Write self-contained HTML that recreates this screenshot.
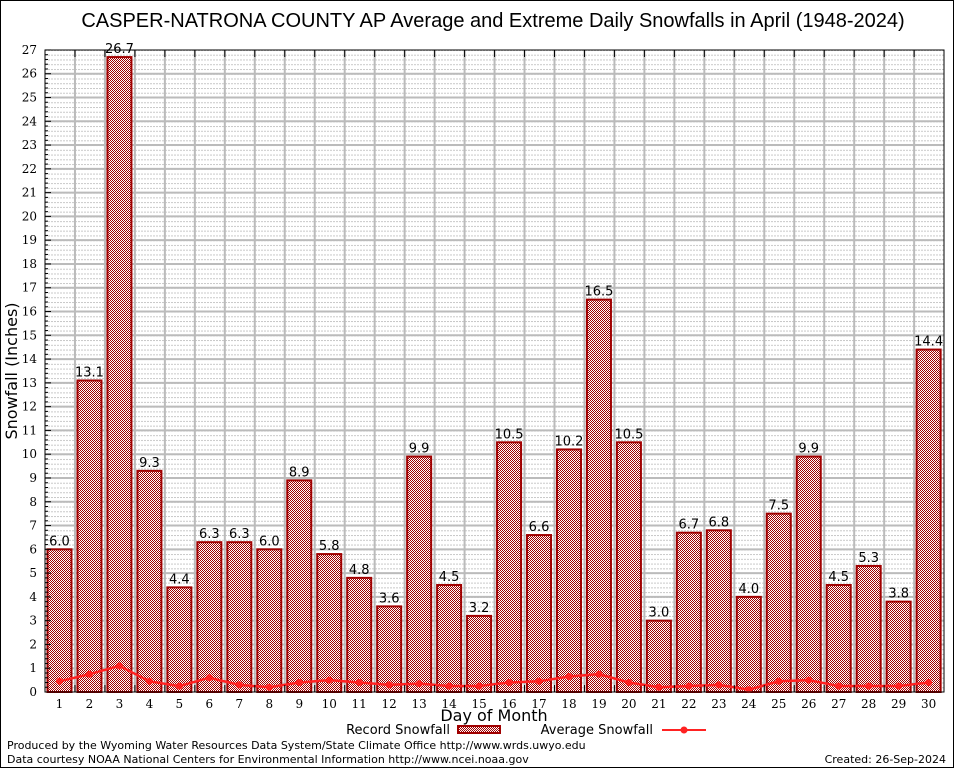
<!DOCTYPE html>
<html><head><meta charset="utf-8"><style>
body{margin:0;background:#fff}
svg text{font-family:"DejaVu Sans","Liberation Sans",sans-serif}
svg text.ser{font-family:"DejaVu Serif","Liberation Serif",serif}
svg text.lib{font-family:"Liberation Sans",sans-serif}
</style></head><body>
<svg width="954" height="768" viewBox="0 0 954 768" xmlns="http://www.w3.org/2000/svg">
<defs>
<pattern id="chk" width="2" height="2" patternUnits="userSpaceOnUse">
<rect width="2" height="2" fill="#fff"/><rect width="1" height="1" fill="#a00000"/><rect x="1" y="1" width="1" height="1" fill="#a00000"/>
</pattern>
<pattern id="dots" x="45" y="692" width="3" height="4.756" patternUnits="userSpaceOnUse">
<rect x="0" y="0" width="2" height="1" fill="#c8c8c8"/>
</pattern>
</defs>
<rect x="0.5" y="0.5" width="953" height="767" fill="#fff" stroke="#000"/>
<text class="lib" x="493" y="27" font-size="20" text-anchor="middle">CASPER-NATRONA COUNTY AP Average and Extreme Daily Snowfalls in April (1948-2024)</text>
<rect x="45" y="50" width="899" height="642" fill="url(#dots)"/>
<g id="grid" stroke="#bbb" stroke-width="2"></g>
<g id="bars"></g>
<g id="avg"></g>
<rect x="45" y="50" width="899" height="642" fill="none" stroke="#000" stroke-width="1"/>
<g id="ticks" font-size="12"></g>
<text transform="translate(17,371) rotate(-90)" font-size="16" text-anchor="middle">Snowfall (Inches)</text>
<text x="494" y="721" font-size="16" text-anchor="middle">Day of Month</text>
<text x="450" y="734" font-size="13" text-anchor="end">Record Snowfall</text>
<rect x="458" y="726" width="42" height="7" fill="url(#chk)" stroke="#a00000" stroke-width="2"/>
<text x="653" y="734" font-size="13" text-anchor="end">Average Snowfall</text>
<line x1="662" y1="730" x2="706" y2="730" stroke="#f22" stroke-width="2"/>
<circle cx="684" cy="730" r="3.5" fill="#f22"/>
<text x="7" y="749" font-size="11">Produced by the Wyoming Water Resources Data System/State Climate Office http://www.wrds.uwyo.edu</text>
<text x="7" y="763" font-size="11">Data courtesy NOAA National Centers for Environmental Information http://www.ncei.noaa.gov</text>
<text x="946" y="763" font-size="11" text-anchor="end">Created:  26-Sep-2024</text>
</svg>
<script>
const NS="http://www.w3.org/2000/svg";
const rec=[6.0,13.1,26.7,9.3,4.4,6.3,6.3,6.0,8.9,5.8,4.8,3.6,9.9,4.5,3.2,10.5,6.6,10.2,16.5,10.5,3.0,6.7,6.8,4.0,7.5,9.9,4.5,5.3,3.8,14.4];
const av=[0.45,0.75,1.1,0.45,0.25,0.6,0.3,0.2,0.4,0.5,0.4,0.3,0.35,0.25,0.25,0.4,0.45,0.65,0.75,0.4,0.2,0.25,0.3,0.1,0.45,0.5,0.25,0.25,0.25,0.4];
const Y=v=>692-v*23.78, X=d=>59.5+29.97*(d-1);
function el(t,a,p,txt){const e=document.createElementNS(NS,t);for(const k in a)e.setAttribute(k,a[k]);if(txt!==undefined)e.textContent=txt;document.getElementById(p).appendChild(e);return e;}
for(let i=1;i<27;i++)el("line",{x1:45,x2:944,y1:Y(i),y2:Y(i)},"grid");
for(let d=1;d<30;d++){const x=45+29.97*d;el("line",{x1:x,x2:x,y1:50,y2:692},"grid");}
rec.forEach((v,i)=>{const x=X(i+1);
el("rect",{x:x-12,y:Y(v),width:24,height:692-Y(v),fill:"url(#chk)",stroke:"#a00000","stroke-width":2},"bars");
el("text",{x:x,y:Y(v)-4,"font-size":13,"text-anchor":"middle"},"bars",v.toFixed(1));});
el("polyline",{points:av.map((v,i)=>X(i+1)+","+Y(v)).join(" "),fill:"none",stroke:"#f22","stroke-width":2.5},"avg");
av.forEach((v,i)=>el("circle",{cx:X(i+1),cy:Y(v),r:3.5,fill:"#f22"},"avg"));
for(let i=0;i<=27;i++){el("text",{class:"ser",x:37,y:Y(i)+4,"text-anchor":"end"},"ticks",i);
el("line",{x1:45,x2:51,y1:Y(i),y2:Y(i),stroke:"#000"},"ticks");
for(let j=1;j<5&&i<27;j++)el("line",{x1:45,x2:48,y1:Y(i+j*0.2),y2:Y(i+j*0.2),stroke:"#000"},"ticks");}
for(let d=1;d<=30;d++){el("text",{class:"ser",x:X(d),y:708,"text-anchor":"middle"},"ticks",d);
if(d<30){const x=45+29.97*d;el("line",{x1:x,x2:x,y1:50,y2:57,stroke:"#000"},"ticks");el("line",{x1:x,x2:x,y1:685,y2:692,stroke:"#000"},"ticks");}}
</script>
</body></html>
